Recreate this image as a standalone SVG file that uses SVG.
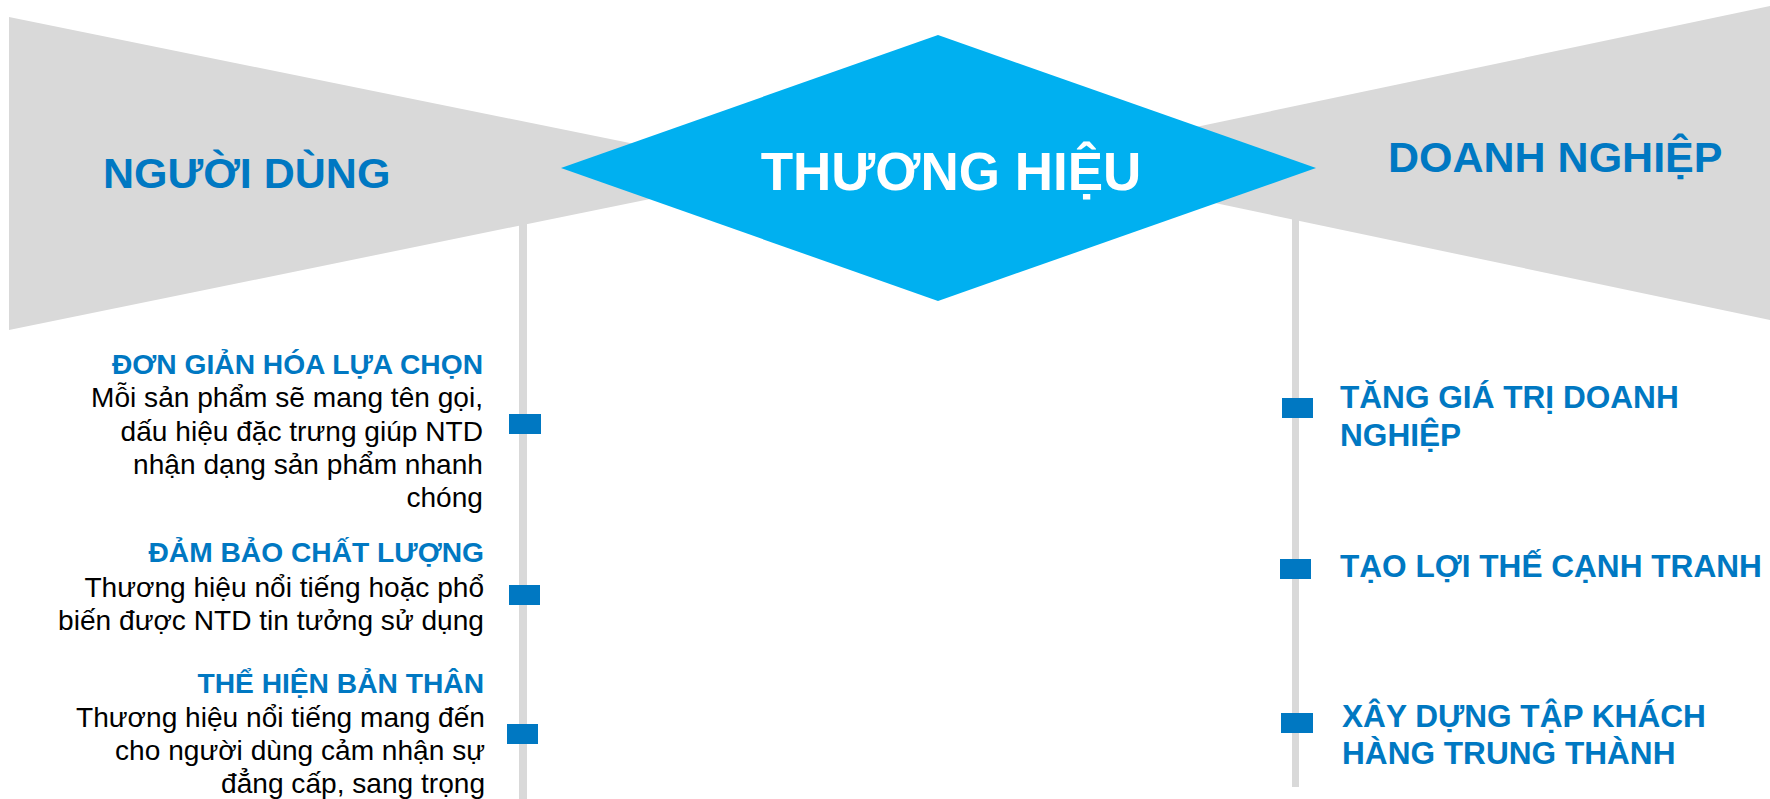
<svg xmlns="http://www.w3.org/2000/svg" width="1770" height="799" viewBox="0 0 1770 799">
<style>
text{font-family:"Liberation Sans",Arial,sans-serif}
.gray{fill:#D9D9D9}
.mk{fill:#0078C2}
.big{font-weight:bold;font-size:43px;fill:#0078C2}
.hd{font-weight:bold;font-size:28.2px;fill:#0078C2}
.bd{font-size:28.1px;fill:#000}
.rh{font-weight:bold;font-size:31.6px;fill:#0078C2}
</style>
<rect width="1770" height="799" fill="#fff"/>
<g id="connectors">
<rect class="gray" x="519" y="200" width="8" height="599"/>
<rect class="gray" x="1292" y="195" width="7" height="592"/>
</g>
<g id="nguoi-dung">
<polygon class="gray" points="9,17 9,330 777,173"/>
<text class="big" x="103" y="188" font-size="42.5px">NGƯỜI DÙNG</text>
</g>
<g id="doanh-nghiep">
<polygon class="gray" points="1770,6 1770,320 1025,163"/>
<text class="big" x="1388" y="172" font-size="42.2px">DOANH NGHIỆP</text>
</g>
<g id="thuong-hieu">
<polygon fill="#00B0F0" points="561,168 938,35 1316,168 938,301"/>
<text x="951" y="190" text-anchor="middle" font-weight="bold" font-size="53px" fill="#fff">THƯƠNG HIỆU</text>
</g>
<g id="left-1">
<rect class="mk" x="509" y="414" width="32" height="20"/>
<text class="hd" x="483" y="374" text-anchor="end" font-size="28.4px">ĐƠN GIẢN HÓA LỰA CHỌN</text>
<text class="bd" text-anchor="end" font-size="28.4px"><tspan x="483" y="407">Mỗi sản phẩm sẽ mang tên gọi,</tspan><tspan x="483" y="441">dấu hiệu đặc trưng giúp NTD</tspan><tspan x="483" y="474">nhận dạng sản phẩm nhanh</tspan><tspan x="483" y="507">chóng</tspan></text>
</g>
<g id="left-2">
<rect class="mk" x="509" y="585" width="31" height="20"/>
<text class="hd" x="484" y="562" text-anchor="end">ĐẢM BẢO CHẤT LƯỢNG</text>
<text class="bd" text-anchor="end"><tspan x="484" y="597">Thương hiệu nổi tiếng hoặc phổ</tspan><tspan x="484" y="630">biến được NTD tin tưởng sử dụng</tspan></text>
</g>
<g id="left-3">
<rect class="mk" x="507" y="724" width="31" height="20"/>
<text class="hd" x="484" y="693" text-anchor="end">THỂ HIỆN BẢN THÂN</text>
<text class="bd" text-anchor="end"><tspan x="485" y="727">Thương hiệu nổi tiếng mang đến</tspan><tspan x="485" y="760">cho người dùng cảm nhận sự</tspan><tspan x="485" y="793">đẳng cấp, sang trọng</tspan></text>
</g>
<g id="right-1">
<rect class="mk" x="1282" y="398" width="31" height="20"/>
<text class="rh"><tspan x="1340" y="408">TĂNG GIÁ TRỊ DOANH</tspan><tspan x="1340" y="446">NGHIỆP</tspan></text>
</g>
<g id="right-2">
<rect class="mk" x="1280" y="559" width="31" height="20"/>
<text class="rh" x="1340" y="577">TẠO LỢI THẾ CẠNH TRANH</text>
</g>
<g id="right-3">
<rect class="mk" x="1281" y="713" width="32" height="20"/>
<text class="rh"><tspan x="1342" y="727">XÂY DỰNG TẬP KHÁCH</tspan><tspan x="1342" y="764">HÀNG TRUNG THÀNH</tspan></text>
</g>
</svg>
